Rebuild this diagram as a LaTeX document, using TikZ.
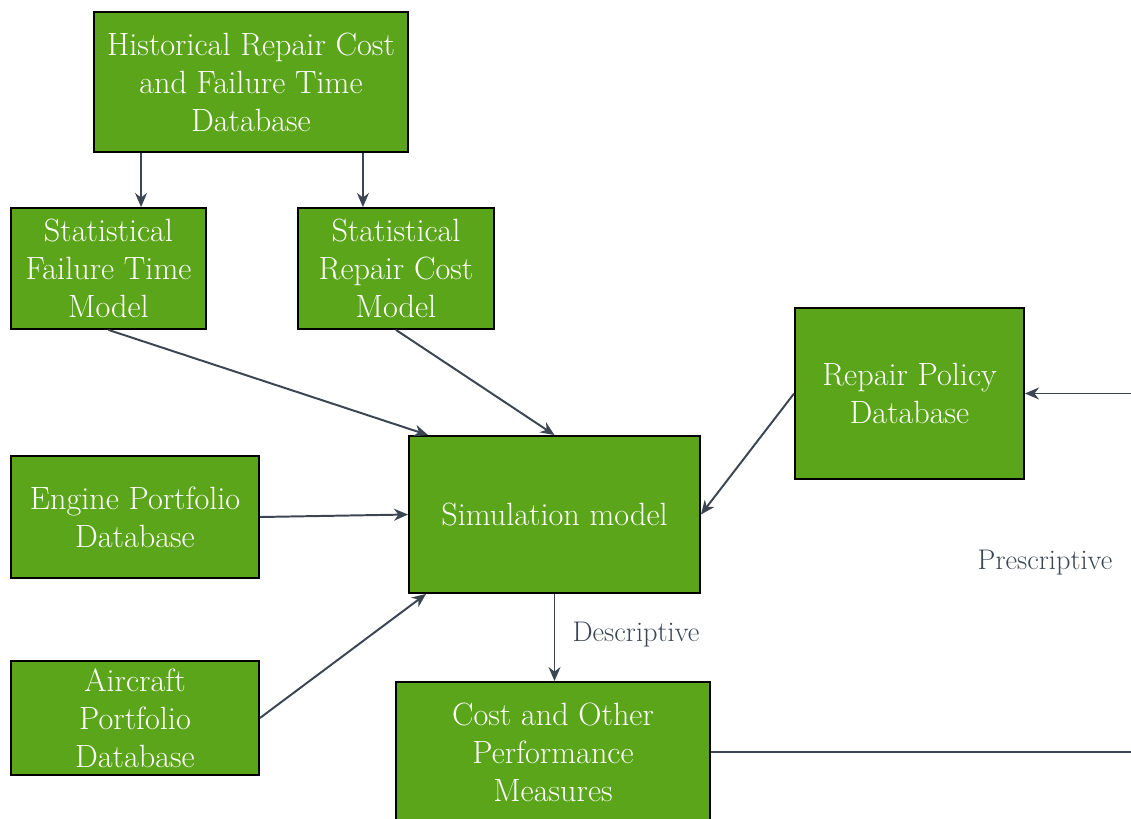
\documentclass[tikz,border=0pt]{standalone}
\usepackage{fontspec}
\setmainfont{Latin Modern Roman}
\usetikzlibrary{arrows.meta}
\definecolor{boxgreen}{RGB}{90,165,26}
\definecolor{linegray}{RGB}{60,70,83}
\begin{document}
\begin{tikzpicture}[x=0.025cm, y=-0.025cm,
    box/.style={draw=black, line width=1.3pt, fill=boxgreen, text=white, align=center,
      font=\fontsize{22.9}{27}\selectfont, inner sep=2pt},
    arrow/.style={draw=linegray, line width=1.4pt, -{Stealth[length=10pt,width=8.5pt]}},
    flow/.style={text=linegray, font=\fontsize{20.2}{22}\selectfont}]
      \clip (0,0) rectangle (1131,818);
      \useasboundingbox (0,0) rectangle (1131,818);

      % Datenbank oben
      \node[box, minimum width=7.85cm, minimum height=3.5cm] (hist) at (251,82) {Historical Repair Cost\\and Failure Time\\Database};

      % Statistische Modelle
      \node[box, minimum width=4.875cm, minimum height=3.025cm] (sftm) at (108.5,268.5) {Statistical\\Failure Time\\Model};
      \node[box, minimum width=4.9cm, minimum height=3.025cm] (srcm) at (396,268.5) {Statistical\\Repair Cost\\Model};

      % Portfolios und Simulation
      \node[box, minimum width=6.2cm, minimum height=3.05cm] (engine) at (135,517) {Engine Portfolio\\Database};
      \node[box, minimum width=6.2cm, minimum height=2.85cm] (aircraft) at (135,718) {Aircraft\\Portfolio\\Database};
      \node[box, minimum width=7.275cm, minimum height=3.925cm] (sim) at (554.5,514.5) {Simulation model};
      \node[box, minimum width=5.725cm, minimum height=4.275cm] (policy) at (909.5,393.5) {Repair Policy\\Database};
      \node[box, minimum width=7.85cm, minimum height=3.5cm] (cost) at (553,752) {Cost and Other\\Performance\\Measures};

      % Beschriftungen
      \node[flow] (desc) at (636,635) {Descriptive};
      \node[flow] (presc) at (1045,563) {Prescriptive};

      % freie Enden rechts
      \coordinate (rin) at (1135,393.5);
      \coordinate (rout) at (1135,752);

      % Pfeile
      \draw[arrow] ([xshift=1.2cm]hist.south west) -- ([xshift=1.2cm]hist.south west |- sftm.north);
      \draw[arrow] ([xshift=-1.15cm]hist.south east) -- ([xshift=-1.15cm]hist.south east |- srcm.north);
      \draw[arrow] (sftm.south) -- ([xshift=0.5cm]sim.north west);
      \draw[arrow] (srcm.south) -- (sim.north);
      \draw[arrow] (engine.east) -- (sim.west);
      \draw[arrow] (aircraft.east) -- ([xshift=0.45cm]sim.south west);
      \draw[arrow] (policy.west) -- (sim.east);
      \draw[arrow] (sim.south) -- (sim.south |- cost.north);
      \draw[arrow] (rin) -- (policy.east);
      \draw[draw=linegray, line width=1.4pt] (cost.east) -- (rout);
    \end{tikzpicture}
\end{document}
